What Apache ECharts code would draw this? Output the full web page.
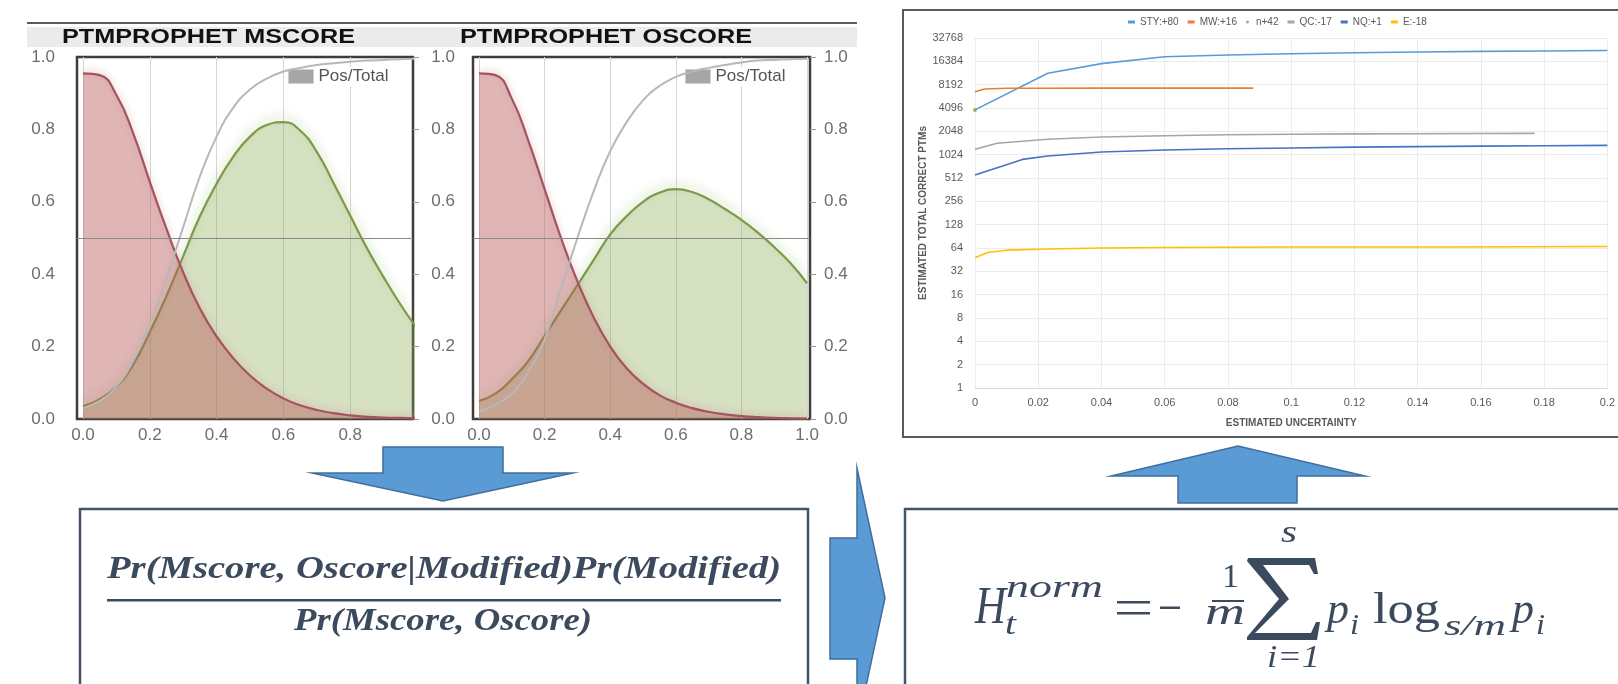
<!DOCTYPE html>
<html>
<head>
<meta charset="utf-8">
<script src="https://cdn.jsdelivr.net/npm/echarts@6/dist/echarts.min.js"></script>
<style>html,body{margin:0;padding:0;background:#fff}#c{width:1618px;height:684px}</style>
</head>
<body>
<div id="c"></div>
<script>
// ---------- PTMProphet score density panels ----------
const scoreX      = [0,0.05,0.1,0.15,0.2,0.25,0.3,0.35,0.4,0.45,0.5,0.55,0.6,0.65,0.7,0.75,0.8,0.85,0.9,0.95,1.0];
const mscoreNeg   = [0.955,0.95,0.895,0.79,0.655,0.525,0.405,0.305,0.228,0.168,0.12,0.084,0.057,0.038,0.025,0.016,0.01,0.006,0.004,0.003,0.002];
const mscorePos   = [0.035,0.055,0.09,0.15,0.24,0.34,0.45,0.56,0.65,0.725,0.78,0.812,0.82,0.797,0.738,0.652,0.562,0.472,0.392,0.317,0.25];
const mscoreRatio = [0.03,0.05,0.09,0.16,0.26,0.39,0.53,0.67,0.78,0.86,0.91,0.94,0.96,0.97,0.978,0.983,0.987,0.99,0.992,0.994,0.995];
const oscoreNeg   = [0.955,0.95,0.885,0.77,0.635,0.5,0.38,0.28,0.2,0.14,0.098,0.066,0.045,0.03,0.02,0.013,0.008,0.005,0.003,0.002,0.001];
const oscorePos   = [0.05,0.07,0.11,0.16,0.23,0.3,0.37,0.44,0.51,0.56,0.6,0.625,0.635,0.627,0.607,0.58,0.55,0.515,0.475,0.43,0.375];
const oscoreRatio = [0.02,0.04,0.07,0.13,0.22,0.36,0.5,0.63,0.74,0.82,0.88,0.92,0.945,0.96,0.97,0.978,0.985,0.99,0.992,0.994,0.995];
const mscoreXLabels = [0,0.2,0.4,0.6,0.8];
const oscoreXLabels = [0,0.2,0.4,0.6,0.8,1.0];
const densityGridX  = [0,0.2,0.4,0.6,0.8,1.0];

// ---------- Estimated total correct PTMs vs uncertainty ----------
const styX = [0,0.023,0.04,0.06,0.08,0.1,0.12,0.14,0.16,0.18,0.2];
const styY = [3870,11500,15300,18800,19800,20500,21100,21600,22000,22300,22600];
const mwX  = [0,0.003,0.01,0.02,0.04,0.06,0.088];
const mwY  = [6650,7200,7350,7380,7400,7400,7400];
const nX   = [0];
const nY   = [3870];
const qcX  = [0,0.007,0.023,0.04,0.06,0.08,0.1,0.12,0.14,0.16,0.177];
const qcY  = [1200,1440,1620,1730,1800,1850,1880,1900,1910,1920,1930];
const nqX  = [0,0.015,0.023,0.04,0.06,0.08,0.1,0.12,0.14,0.16,0.18,0.2];
const nqY  = [560,890,985,1107,1175,1220,1250,1280,1300,1320,1335,1350];
const eX   = [0,0.004,0.01,0.023,0.04,0.06,0.1,0.15,0.2];
const eY   = [48,56,60,62,64,65,66,66,67];
const logTicks = [1,2,4,8,16,32,64,128,256,512,1024,2048,4096,8192,16384,32768];
const legendNames = ['STY:+80','MW:+16','n+42','QC:-17','NQ:+1','E:-18'];
const titles = ['PTMPROPHET MSCORE','PTMPROPHET OSCORE'];
const numeratorText = 'Pr(Mscore, Oscore|Modified)Pr(Modified)';
const denominatorText = 'Pr(Mscore, Oscore)';

function zip(xs, ys){ return xs.map((x,i)=>[x, ys[i]]); }

const INK = '#3c4a5e';
const SERIF = "'Liberation Serif','DejaVu Serif',serif";
const SANS = "'Liberation Sans',Arial,sans-serif";
const mctx = document.createElement('canvas').getContext('2d');
function tw(text, font){ mctx.font = font; return mctx.measureText(text).width; }
function T(text, left, baseline, size, width, fstyle, weight, family, fill){
  const font = (fstyle||'normal') + ' ' + (weight||'normal') + ' ' + size + 'px ' + (family||SERIF);
  return { type:'text', x:left, y:baseline - 0.3*size, scaleX: width / tw(text, font), z:50,
    style:{ text:text, font:font, fill: fill||INK, textAlign:'left', textVerticalAlign:'middle', align:'left', verticalAlign:'middle' } };
}
function bar(x, y, w, h){ return { type:'rect', shape:{x:x, y:y, width:w, height:h}, style:{fill:INK}, z:50 }; }

const axisGrey = '#6e6e6e';
function densityYAxis(grid, pos, showLabel, margin, ticks){
  return { type:'value', gridIndex:grid, position:pos, min:0, max:1, interval:0.2,
    axisLine:{show:false}, splitLine:{show:false},
    axisTick:{show:ticks, length:6, lineStyle:{color:'#9a9a9a'}},
    axisLabel:{show:showLabel, margin:margin, color:axisGrey, fontSize:17, fontFamily:SANS, formatter:v=>v.toFixed(1)} };
}
function densityXAxis(grid, min, max, labels){
  return { type:'value', gridIndex:grid, min:min, max:max,
    axisLine:{show:false},
    axisTick:{show:false, customValues:densityGridX},
    splitLine:{show:true, lineStyle:{color:'#d6d6d6', width:1}},
    axisLabel:{customValues:labels, margin:8, color:axisGrey, fontSize:17, fontFamily:SANS, formatter:v=>v.toFixed(1)} };
}
function densitySeries(xi, yi, yiR, pos, neg, ratio){
  return [
    { name:'Modified', type:'line', xAxisIndex:xi, yAxisIndex:yi, data:zip(scoreX,pos), smooth:0.5, showSymbol:false, z:2,
      lineStyle:{color:'#7b9a4a', width:2.2, shadowColor:'rgba(150,185,100,0.6)', shadowBlur:8, shadowOffsetY:-4},
      areaStyle:{color:'#8aaa50', opacity:0.35},
      markLine:{silent:true, symbol:'none', label:{show:false}, lineStyle:{color:'#8a8a8a', width:1.2, type:'solid'}, data:[{yAxis:0.5}]} },
    { name:'Unmodified', type:'line', xAxisIndex:xi, yAxisIndex:yi, data:zip(scoreX,neg), smooth:0.5, showSymbol:false, z:3,
      lineStyle:{color:'#a3545c', width:2.2, shadowColor:'rgba(210,140,150,0.6)', shadowBlur:6, shadowOffsetY:-2},
      areaStyle:{color:'#b85c5c', opacity:0.45} },
    { name:'Pos/Total', type:'line', xAxisIndex:xi, yAxisIndex:yiR, data:zip(scoreX,ratio), smooth:0.5, showSymbol:false, z:4,
      itemStyle:{color:'#a6a6a6'}, lineStyle:{color:'#b8b8b8', width:2} }
  ];
}

const logColors = {sty:'#5b9bd5', mw:'#ed7d31', n:'#70ad47', qc:'#a5a5a5', nq:'#4472c4', e:'#ffc000'};
function logLine(name, xs, ys, color){
  return { name:name, type:'line', xAxisIndex:2, yAxisIndex:4, data:zip(xs,ys), showSymbol:false,
    itemStyle:{color:color}, lineStyle:{color:color, width:1.6} };
}

const graphics = [
  // title band
  { type:'rect', shape:{x:27, y:27, width:830, height:20}, style:{fill:'#ebebeb'} },
  { type:'line', shape:{x1:27, y1:23, x2:857, y2:23}, style:{stroke:'#5a5a5a', lineWidth:2} },
  T(titles[0], 62, 43.5, 21, 293, 'normal', 'bold', SANS, '#111'),
  T(titles[1], 460, 43.5, 21, 292, 'normal', 'bold', SANS, '#111'),
  // log chart frame
  { type:'rect', shape:{x:903, y:10, width:740, height:427}, style:{fill:'none', stroke:'#5a5a5a', lineWidth:2} },
  // arrows
  { type:'polygon', shape:{points:[[383,447],[503,447],[503,473],[573,473],[443,501],[312,473],[383,473]]}, style:{fill:'#5b9bd5', stroke:'#3f6f9c', lineWidth:1.5} },
  { type:'polygon', shape:{points:[[1178,503],[1297,503],[1297,476],[1365,476],[1238,446],[1111,476],[1178,476]]}, style:{fill:'#5b9bd5', stroke:'#3f6f9c', lineWidth:1.5} },
  { type:'polygon', shape:{points:[[830,538],[857,538],[857,468],[885,598],[857,728],[857,659],[830,659]]}, style:{fill:'#5b9bd5', stroke:'#3f6f9c', lineWidth:1.5} },
  // formula boxes
  { type:'rect', shape:{x:80, y:509, width:728, height:200}, style:{fill:'none', stroke:'#44546a', lineWidth:2.5} },
  { type:'rect', shape:{x:905, y:509, width:740, height:200}, style:{fill:'none', stroke:'#44546a', lineWidth:2.5} },
  // Bayes fraction
  T(numeratorText, 107, 579, 31, 674, 'italic', 'bold'),
  bar(107, 599, 674, 2.5),
  T(denominatorText, 294, 631, 31, 298, 'italic', 'bold'),
  // entropy formula
  T('H', 975, 625, 52, 31, 'italic'),
  T('norm', 1006, 598, 32, 97, 'italic'),
  T('t', 1005, 635, 32, 11, 'italic'),
  bar(1117, 601, 33, 2.5),
  bar(1117, 612, 33, 2.5),
  bar(1160, 606.5, 20, 2.5),
  T('1', 1222, 588, 34, 17, 'normal'),
  bar(1212, 600, 32, 2),
  T('m', 1205, 625, 38, 40, 'italic'),
  { type:'polygon', shape:{points:[[1248,558],[1315,558],[1318,574],[1314,574],[1309,565],[1263,565],[1289,599],[1255,633],[1311,633],[1316,622],[1320,622],[1317,640],[1247,640],[1247,637],[1279,599],[1247,561]]}, style:{fill:INK}, z:50 },
  T('s', 1281, 543, 32, 16, 'italic'),
  T('i=1', 1267, 668, 32, 53, 'italic'),
  T('p', 1327, 625, 44, 22, 'italic'),
  T('i', 1350, 635, 30, 9, 'italic'),
  T('log', 1373, 625, 44, 67, 'normal'),
  T('s/m', 1444, 636, 30, 62, 'italic'),
  T('p', 1512, 625, 44, 22, 'italic'),
  T('i', 1536, 635, 30, 9, 'italic')
];

const option = {
  animation:false,
  backgroundColor:'#fff',
  grid:[
    {left:77, top:57, width:336, height:362, show:true, borderColor:'#3d3d3d', borderWidth:2.5, backgroundColor:'#fff'},
    {left:473, top:57, width:337, height:362, show:true, borderColor:'#3d3d3d', borderWidth:2.5, backgroundColor:'#fff'},
    {left:975, top:38, width:640, height:350}
  ],
  legend:[
    {left:285, top:67, data:['Pos/Total'], icon:'rect', itemWidth:25, itemHeight:14, padding:[1,3], backgroundColor:'#fff',
     itemStyle:{borderColor:'#d0d0d0', borderWidth:1}, textStyle:{fontSize:17, color:'#555', fontFamily:SANS}},
    {left:682, top:67, data:['Pos/Total'], icon:'rect', itemWidth:25, itemHeight:14, padding:[1,3], backgroundColor:'#fff',
     itemStyle:{borderColor:'#d0d0d0', borderWidth:1}, textStyle:{fontSize:17, color:'#555', fontFamily:SANS}},
    {left:1128, top:17, itemGap:9, itemWidth:7, itemHeight:3, padding:0,
     data:legendNames.map(n=>({name:n, icon: n==='n+42' ? 'circle' : 'rect'})),
     textStyle:{fontSize:10, color:'#595959', fontFamily:SANS}}
  ],
  xAxis:[
    densityXAxis(0, -0.018, 0.988, mscoreXLabels),
    densityXAxis(1, -0.0183, 1.009, oscoreXLabels),
    { type:'value', gridIndex:2, min:0, max:0.2, interval:0.02,
      axisLine:{show:true, lineStyle:{color:'#d9d9d9'}}, axisTick:{show:false},
      splitLine:{show:true, lineStyle:{color:'#ececec'}},
      axisLabel:{margin:9, color:'#595959', fontSize:11, fontFamily:SANS},
      name:'ESTIMATED UNCERTAINTY', nameLocation:'middle', nameGap:30,
      nameTextStyle:{fontSize:10, fontWeight:'bold', color:'#595959', fontFamily:SANS} }
  ],
  yAxis:[
    densityYAxis(0, 'left', true, 22, false),
    densityYAxis(0, 'right', false, 14, true),
    densityYAxis(1, 'left', true, 18, false),
    densityYAxis(1, 'right', true, 14, true),
    { type:'log', logBase:2, gridIndex:2, min:1, max:32768,
      axisLine:{show:false},
      axisTick:{show:false, customValues:logTicks},
      splitLine:{show:true, lineStyle:{color:'#ececec'}},
      axisLabel:{customValues:logTicks, margin:12, color:'#595959', fontSize:11, fontFamily:SANS, formatter:v=>String(Math.round(v))},
      name:'ESTIMATED TOTAL CORRECT PTMs', nameLocation:'middle', nameGap:44,
      nameTextStyle:{fontSize:10, fontWeight:'bold', color:'#595959', fontFamily:SANS} }
  ],
  series:[
    ...densitySeries(0, 0, 1, mscorePos, mscoreNeg, mscoreRatio),
    ...densitySeries(1, 2, 3, oscorePos, oscoreNeg, oscoreRatio),
    logLine('STY:+80', styX, styY, logColors.sty),
    logLine('MW:+16', mwX, mwY, logColors.mw),
    { name:'n+42', type:'scatter', xAxisIndex:2, yAxisIndex:4, data:zip(nX,nY), symbolSize:4, itemStyle:{color:logColors.n}, z:5 },
    logLine('QC:-17', qcX, qcY, logColors.qc),
    logLine('NQ:+1', nqX, nqY, logColors.nq),
    logLine('E:-18', eX, eY, logColors.e)
  ],
  graphic:{elements:graphics}
};

const chart = echarts.init(document.getElementById('c'), null, {renderer:'canvas'});
chart.setOption(option);
</script>
</body>
</html>
